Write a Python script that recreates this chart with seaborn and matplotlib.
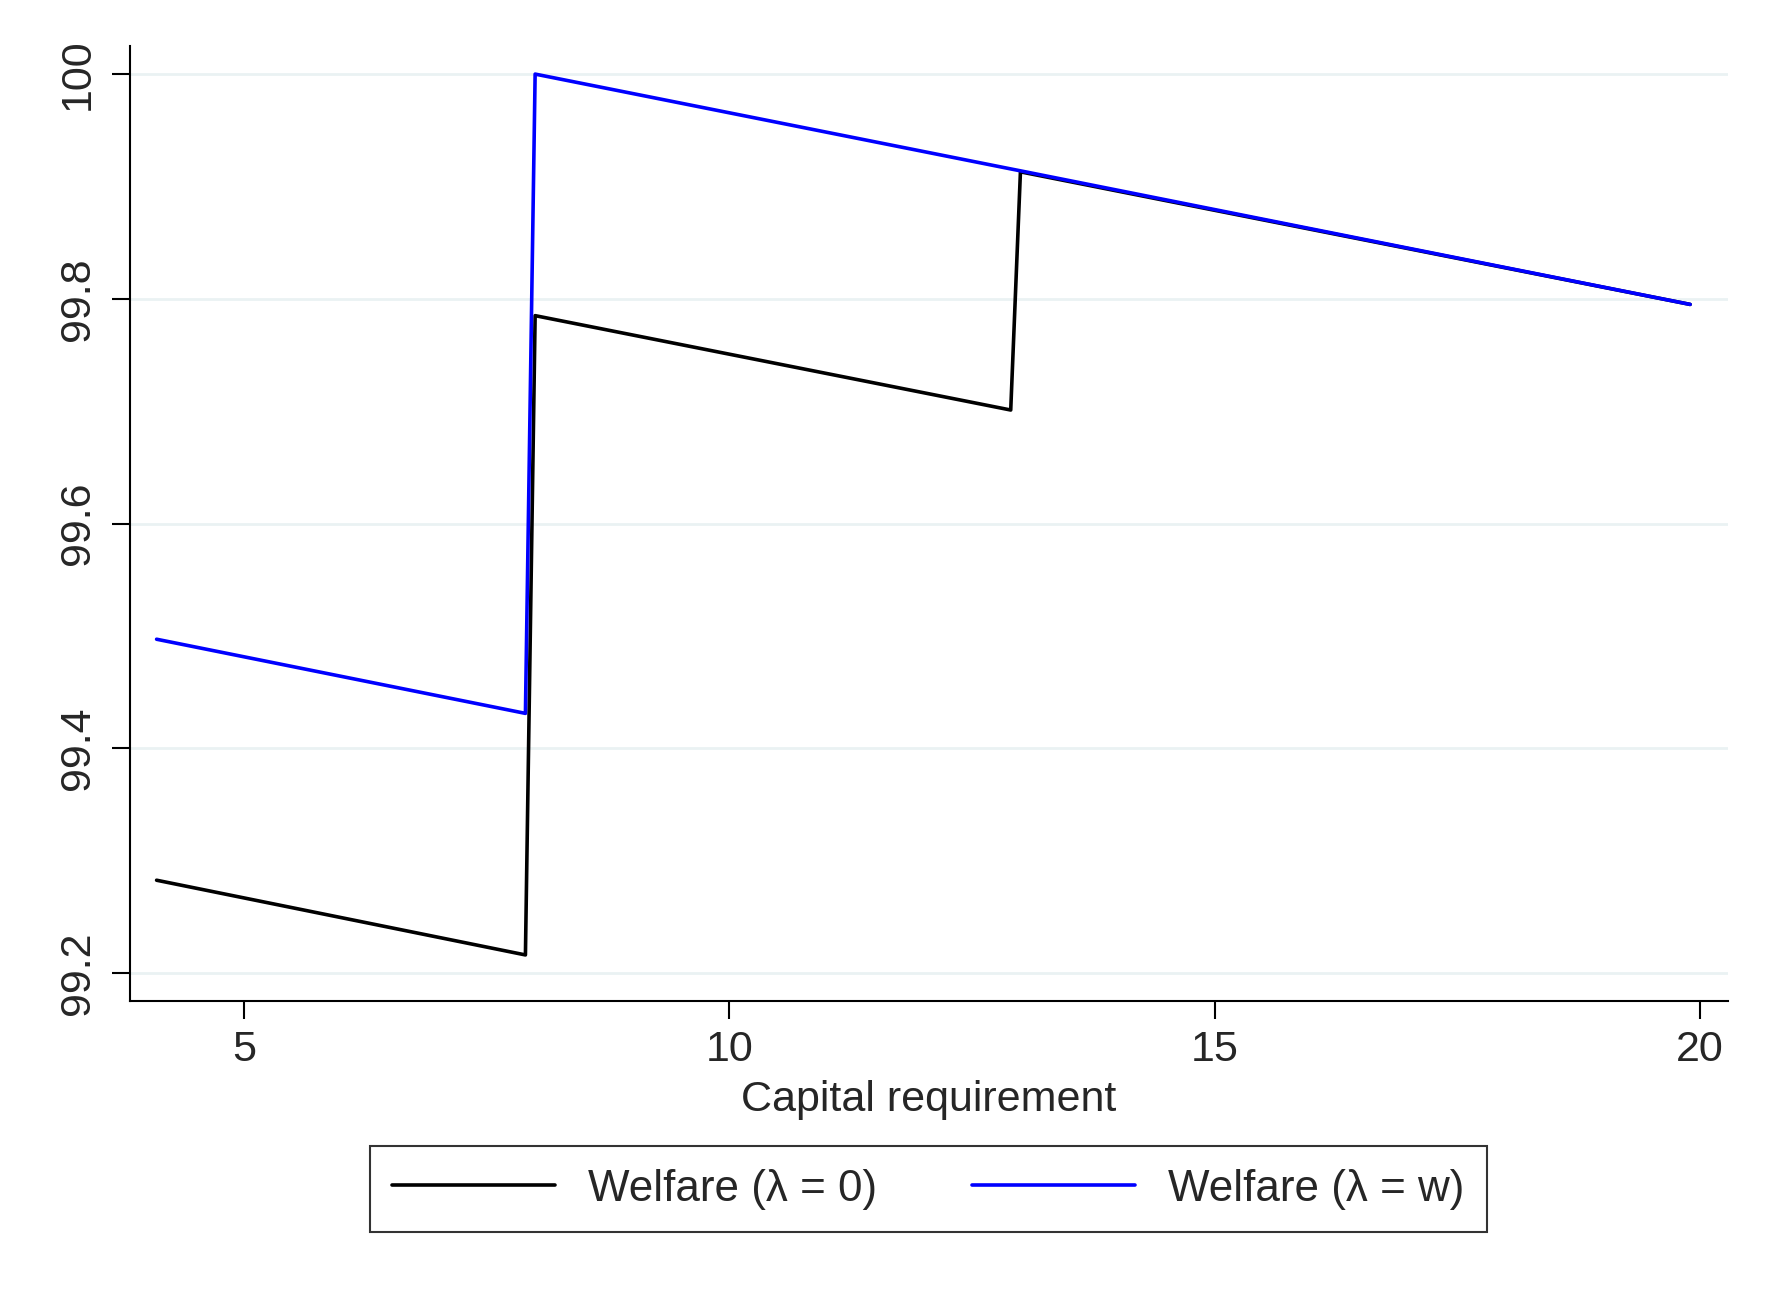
import matplotlib
matplotlib.use("Agg")
import matplotlib.pyplot as plt
import seaborn as sns
import pandas as pd

# Data
capital = [4.1, 7.9, 8.0, 12.9, 13.0, 19.9]
welfare_l0 = [99.2825, 99.216, 99.785, 99.701, 99.913, 99.795]
welfare_lw = [99.497, 99.431, 100.0, 99.9156, 99.9139, 99.795]
series_names = ["Welfare (\u03bb = 0)", "Welfare (\u03bb = w)"]
series_colors = ["#000000", "#0000ff"]
x_ticks = [5, 10, 15, 20]
y_ticks = [99.2, 99.4, 99.6, 99.8, 100]
y_tick_labels = ["99.2", "99.4", "99.6", "99.8", "100"]

df = pd.concat([
    pd.DataFrame({"x": capital, "y": welfare_l0, "series": series_names[0]}),
    pd.DataFrame({"x": capital, "y": welfare_lw, "series": series_names[1]}),
], ignore_index=True)

sns.set_style("white")
plt.rcParams["font.family"] = ["Liberation Sans", "DejaVu Sans"]

fig = plt.figure(figsize=(17.71, 12.91), dpi=100)
ax = fig.add_axes([130 / 1771, 1 - 1001 / 1291, (1728 - 130) / 1771, (1001 - 46) / 1291])

sns.lineplot(data=df, x="x", y="y", hue="series", hue_order=series_names,
             palette=series_colors, linewidth=2.6, ax=ax, legend=True)

ax.set_xlim(3.826, 20.29)
ax.set_ylim(99.175, 100.025)
ax.set_xticks(x_ticks)
ax.set_xticklabels([str(t) for t in x_ticks])
ax.set_yticks(y_ticks)
ax.set_yticklabels(y_tick_labels, rotation=90, va="center")
ax.tick_params(axis="x", direction="out", length=13, width=1.5, color="black",
               labelsize=31, pad=8, bottom=True)
ax.tick_params(axis="y", direction="out", length=13, width=1.5, color="black",
               labelsize=31, pad=10, left=True)
ax.grid(axis="y", color="#eaf2f3", linewidth=2)
ax.grid(axis="x", visible=False)
for s in ["top", "right"]:
    ax.spines[s].set_visible(False)
for s in ["left", "bottom"]:
    ax.spines[s].set_color("black")
    ax.spines[s].set_linewidth(1.5)
ax.set_xlabel("Capital requirement", fontsize=31, labelpad=7)
ax.set_ylabel("")

handles, labels = ax.get_legend_handles_labels()
ax.get_legend().remove()
leg = fig.legend(handles, labels, loc="center", bbox_to_anchor=(928.5 / 1771, 1 - 1189 / 1291),
                 ncol=2, fontsize=31.7, frameon=True, fancybox=False, edgecolor="black",
                 handlelength=3.7, handletextpad=0.75, columnspacing=2.15,
                 borderpad=0.5, borderaxespad=0)
leg.get_frame().set_linewidth(1.5)
for line in leg.get_lines():
    line.set_linewidth(2.6)

fig.savefig("out.png", dpi=100, facecolor="white")
